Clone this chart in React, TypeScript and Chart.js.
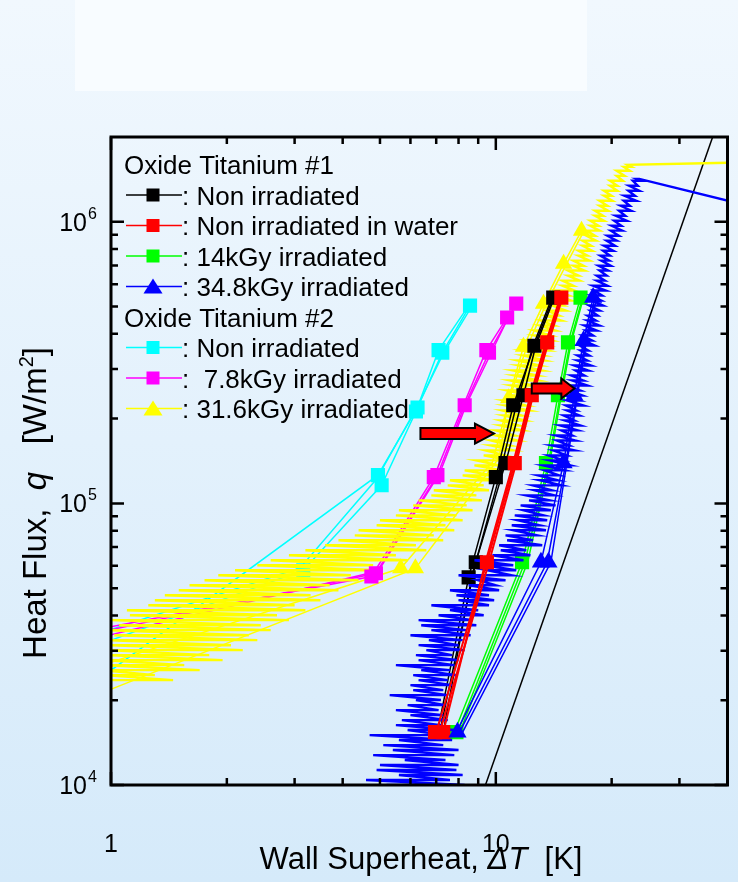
import React, { useEffect, useRef } from "react";
import { Chart, registerables } from "chart.js";

Chart.register(...registerables);

type P = [number, number];
type Row = [number, number, number]; // [q, T left, T right]

// ---------- axes ----------
const X_MIN = 1;
const X_MAX = 40;
const Y_MIN = 1e4;
const Y_MAX = 2e6;
const xMajorTicks = [1, 10];
const xMinorTicks = [2, 3, 4, 5, 6, 7, 8, 9, 20, 30];
const xTickLabels = ["1", "10"];
const yMajorTicks = [1e4, 1e5, 1e6];
const yMinorTicks = [2e4, 3e4, 4e4, 5e4, 6e4, 7e4, 8e4, 9e4, 2e5, 3e5, 4e5, 5e5, 6e5, 7e5, 8e5, 9e5];
const yTickExponents = ["4", "5", "6"];

// ---------- reference correlation line ----------
const referenceLine: P[] = [[9.4, 1e4], [36.6, 2e6]];

// ---------- Oxide Titanium #1 : Non irradiated (black) ----------
const blackRunA: P[] = [[7.05, 1.54e4], [8.5, 5.46e4], [10.0, 1.24e5], [11.1, 2.23e5], [12.6, 3.63e5], [14.1, 5.38e5]];
const blackRunB: P[] = [[7.15, 1.54e4], [8.87, 6.18e4], [10.6, 1.39e5], [11.8, 2.42e5], [12.7, 3.63e5], [14.2, 5.38e5]];
const blackRunC: P[] = [[7.3, 1.54e4], [8.65, 5.46e4], [10.2, 1.24e5], [11.3, 2.23e5], [12.5, 3.63e5], [14.0, 5.38e5]];
const blackMarks: P[] = [[7.05, 1.54e4], [8.5, 5.46e4], [8.87, 6.18e4], [10.0, 1.24e5], [10.6, 1.39e5], [11.1, 2.23e5], [11.8, 2.42e5], [12.6, 3.63e5], [14.1, 5.38e5]];

// ---------- Non irradiated in water (red) ----------
const redRunA: P[] = [[7.0, 1.54e4], [9.48, 6.18e4], [11.2, 1.39e5], [12.4, 2.42e5], [13.6, 3.73e5], [14.8, 5.38e5]];
const redRunB: P[] = [[7.15, 1.54e4], [9.6, 6.18e4], [11.3, 1.39e5], [12.5, 2.42e5], [13.7, 3.73e5], [14.9, 5.38e5]];
const redRunC: P[] = [[7.3, 1.54e4], [9.4, 6.18e4], [11.1, 1.39e5], [12.3, 2.42e5], [13.5, 3.73e5], [14.7, 5.38e5]];
const redMarks: P[] = [[6.95, 1.54e4], [7.3, 1.54e4], [9.48, 6.18e4], [11.2, 1.39e5], [12.4, 2.42e5], [13.6, 3.73e5], [14.8, 5.38e5]];

// ---------- 14kGy irradiated (green) ----------
const greenRunA: P[] = [[7.8, 1.54e4], [11.7, 6.18e4], [13.5, 1.39e5], [14.5, 2.42e5], [15.4, 3.73e5], [16.6, 5.38e5]];
const greenRunB: P[] = [[7.95, 1.54e4], [11.9, 6.18e4], [13.7, 1.39e5], [14.7, 2.42e5], [15.6, 3.73e5], [16.8, 5.38e5]];
const greenRunC: P[] = [[8.05, 1.54e4], [12.1, 6.18e4], [13.8, 1.39e5], [14.8, 2.42e5], [15.7, 3.73e5], [16.9, 5.38e5]];
const greenMarks: P[] = [[7.9, 1.54e4], [11.7, 6.18e4], [13.5, 1.39e5], [14.5, 2.42e5], [15.4, 3.73e5], [16.6, 5.38e5]];

// ---------- 34.8kGy irradiated (blue) ----------
const blueRunA: P[] = [[7.9, 1.54e4], [13.1, 6.18e4], [15.0, 1.39e5], [16.0, 2.42e5], [16.9, 3.78e5], [17.9, 5.38e5]];
const blueRunB: P[] = [[8.05, 1.54e4], [13.6, 6.18e4], [15.2, 1.39e5], [16.2, 2.42e5], [17.1, 3.78e5], [18.1, 5.38e5]];
const blueRunC: P[] = [[8.2, 1.54e4], [13.9, 6.18e4], [15.3, 1.39e5], [16.3, 2.42e5], [17.2, 3.78e5], [18.3, 5.38e5]];
const blueMarks: P[] = [[7.95, 1.54e4], [13.1, 6.18e4], [13.7, 6.18e4], [15.0, 1.39e5], [16.0, 2.42e5], [16.9, 3.78e5], [17.9, 5.38e5]];
// continuous (noisy) record: each row = heat flux, low-T excursion, high-T excursion
const blueNoiseRows: Row[] = [
  [9.6e3, 5.0, 7.9], [1.0e4, 5.2, 8.3], [1.042e4, 4.6, 7.6], [1.085e4, 5.6, 8.2], [1.131e4, 4.9, 7.9],
  [1.177e4, 5.0, 8.0], [1.227e4, 5.8, 7.4], [1.277e4, 4.8, 7.8], [1.331e4, 5.4, 8.0], [1.386e4, 5.1, 7.3],
  [1.444e4, 5.6, 7.7], [1.504e4, 4.7, 7.4], [1.567e4, 5.9, 7.8], [1.632e4, 5.5, 7.2], [1.70e4, 5.7, 7.5],
  [1.771e4, 6.0, 7.3], [1.845e4, 5.5, 7.1], [1.922e4, 5.9, 7.4], [2.003e4, 6.2, 7.2], [2.085e4, 5.3, 7.5],
  [2.173e4, 6.1, 7.3], [2.263e4, 6.0, 7.7], [2.358e4, 6.3, 7.5], [2.455e4, 6.1, 7.9], [2.558e4, 6.4, 7.6],
  [2.664e4, 5.5, 7.8], [2.776e4, 6.3, 8.0], [2.891e4, 6.2, 7.7], [3.012e4, 6.6, 8.3], [3.137e4, 6.3, 8.0],
  [3.269e4, 6.7, 8.2], [3.404e4, 6.0, 8.6], [3.547e4, 6.8, 8.4], [3.694e4, 6.4, 8.9], [3.849e4, 6.3, 8.7],
  [4.008e4, 7.1, 9.3], [4.176e4, 7.6, 9.0], [4.349e4, 6.8, 9.6], [4.532e4, 8.0, 9.9], [4.719e4, 7.9, 9.6],
  [4.917e4, 7.6, 10.2], [5.121e4, 8.5, 10.0], [5.336e4, 9.0, 10.6], [5.557e4, 8.0, 11.0], [5.79e4, 9.5, 11.3],
  [6.03e4, 9.3, 11.1], [6.283e4, 8.8, 11.8], [6.543e4, 9.8, 12.3], [6.818e4, 10.3, 12.0], [7.10e4, 10.2, 13.2],
  [7.40e4, 10.7, 12.5], [7.70e4, 10.6, 12.8], [8.03e4, 11.1, 13.5], [8.36e4, 11.0, 13.0], [8.71e4, 11.4, 13.6],
  [9.07e4, 11.2, 13.3], [9.45e4, 11.8, 13.9], [9.84e4, 11.6, 14.3], [1.025e5, 12.2, 13.8], [1.068e5, 12.0, 14.2],
  [1.113e5, 12.6, 14.0], [1.159e5, 12.5, 14.8], [1.208e5, 13.0, 14.5], [1.257e5, 12.9, 14.6], [1.31e5, 13.4, 15.1],
  [1.364e5, 13.3, 15.6], [1.421e5, 13.8, 15.0], [1.48e5, 13.7, 15.3], [1.542e5, 14.1, 16.0], [1.606e5, 14.0, 15.5],
  [1.673e5, 14.4, 16.1], [1.743e5, 14.3, 15.8], [1.816e5, 14.8, 16.3], [1.891e5, 14.7, 16.6], [1.97e5, 15.1, 16.0],
  [2.052e5, 15.0, 16.5], [2.138e5, 15.3, 16.2], [2.227e5, 15.2, 16.9], [2.32e5, 15.3, 16.5], [2.416e5, 15.1, 16.8],
  [2.517e5, 15.5, 16.6], [2.622e5, 15.4, 17.3], [2.732e5, 15.8, 16.9], [2.845e5, 15.7, 17.0], [2.964e5, 16.1, 17.4],
  [3.087e5, 16.0, 17.7], [3.216e5, 16.3, 17.3], [3.35e5, 16.3, 17.5], [3.49e5, 16.6, 17.4], [3.635e5, 16.5, 18.1],
  [3.787e5, 16.9, 17.8], [3.944e5, 16.8, 17.9], [4.109e5, 17.1, 18.3], [4.28e5, 17.0, 18.6], [4.459e5, 17.3, 18.2],
  [4.644e5, 17.3, 18.4], [4.838e5, 17.6, 18.6], [5.04e5, 17.5, 19.0], [5.25e5, 17.8, 18.8], [5.47e5, 17.7, 18.9],
  [5.70e5, 18.0, 19.3], [5.93e5, 17.9, 19.5], [6.18e5, 18.3, 19.2], [6.44e5, 18.3, 19.4], [6.71e5, 18.6, 19.6],
  [6.98e5, 18.5, 19.9], [7.28e5, 18.8, 19.7], [7.58e5, 18.7, 19.8], [7.89e5, 19.0, 20.2], [8.22e5, 19.1, 20.4],
  [8.57e5, 19.4, 20.6], [8.92e5, 19.5, 20.9], [9.30e5, 19.9, 21.3], [9.68e5, 20.0, 21.2], [1.009e6, 20.3, 21.9],
  [1.05e6, 20.5, 21.7], [1.094e6, 20.9, 22.5], [1.14e6, 21.1, 22.3], [1.187e6, 21.5, 23.2], [1.237e6, 21.6, 23.0],
  [1.289e6, 22.1, 23.6], [1.342e6, 22.2, 23.4], [1.398e6, 22.7, 24.0], [1.42e6, 23.3, 23.6],
];
const blueTail: P[] = [[60, 1.036e6]];

// ---------- Oxide Titanium #2 : Non irradiated (cyan) ----------
const cyanRunA: P[] = [[0.9, 2.3e4], [4.94, 1.26e5], [6.26, 2.19e5], [7.26, 3.43e5], [8.57, 5.04e5]];
const cyanRunB: P[] = [[0.9, 3.1e4], [3.16, 5.79e4], [5.05, 1.16e5], [6.2, 2.12e5], [7.1, 3.5e5], [8.5, 5.04e5]];
const cyanRunC: P[] = [[0.9, 3.4e4], [3.1, 5.9e4], [4.9, 1.22e5], [6.3, 2.25e5], [7.3, 3.4e5], [8.65, 5.0e5]];
const cyanMarks: P[] = [[3.16, 5.79e4], [4.94, 1.26e5], [5.05, 1.16e5], [6.26, 2.19e5], [6.2, 2.12e5], [7.26, 3.43e5], [7.1, 3.5e5], [8.57, 5.04e5]];

// ---------- 7.8kGy irradiated (magenta) ----------
const magentaRunA: P[] = [[0.9, 3.45e4], [4.88, 5.65e4], [7.05, 1.26e5], [8.3, 2.23e5], [9.6, 3.43e5], [11.3, 5.12e5]];
const magentaRunB: P[] = [[0.9, 3.55e4], [4.75, 5.5e4], [6.9, 1.24e5], [8.2, 2.2e5], [9.45, 3.5e5], [10.7, 4.57e5]];
const magentaRunC: P[] = [[0.9, 3.3e4], [4.95, 5.75e4], [7.15, 1.28e5], [8.4, 2.26e5], [9.7, 3.4e5], [10.8, 4.6e5]];
const magentaMarks: P[] = [[4.75, 5.5e4], [4.88, 5.65e4], [6.9, 1.24e5], [7.05, 1.26e5], [8.3, 2.23e5], [9.45, 3.5e5], [9.6, 3.43e5], [10.7, 4.57e5], [11.3, 5.12e5]];

// ---------- 31.6kGy irradiated (yellow) ----------
const yellowRunA: P[] = [[0.92, 2.09e4], [6.18, 5.88e4], [10.2, 1.45e5], [10.8, 2.36e5], [11.8, 3.6e5], [13.3, 5.12e5], [15.0, 7.1e5], [16.7, 9.29e5]];
const yellowRunB: P[] = [[0.92, 2.63e4], [5.66, 5.88e4], [9.8, 1.4e5], [10.9, 2.4e5], [12.0, 3.55e5], [13.5, 5.1e5], [15.2, 7.0e5], [16.9, 9.2e5]];
const yellowMarks: P[] = [[5.66, 5.88e4], [6.18, 5.88e4], [10.8, 2.36e5], [11.8, 3.6e5], [13.3, 5.12e5], [15.0, 7.1e5], [16.7, 9.29e5]];
const yellowNoiseRows: Row[] = [
  [2.358e4, 0.95, 1.45], [2.455e4, 0.96, 1.3], [2.558e4, 0.95, 1.7], [2.664e4, 0.97, 1.55], [2.776e4, 0.96, 1.95],
  [2.891e4, 0.98, 1.8], [3.012e4, 0.97, 2.2], [3.137e4, 1.0, 2.05], [3.269e4, 0.97, 2.4], [3.404e4, 1.02, 2.28],
  [3.547e4, 0.98, 2.6], [3.694e4, 1.05, 2.45], [3.849e4, 1.0, 2.9], [4.008e4, 1.12, 2.7], [4.176e4, 1.1, 3.2],
  [4.349e4, 1.25, 3.0], [4.532e4, 1.3, 3.5], [4.719e4, 1.38, 3.3], [4.917e4, 1.5, 3.9], [5.121e4, 1.6, 3.7],
  [5.336e4, 1.75, 4.4], [5.557e4, 1.9, 4.2], [5.79e4, 2.1, 5.0], [6.03e4, 2.4, 4.8], [6.283e4, 2.6, 5.9],
  [6.543e4, 2.9, 5.5], [6.818e4, 3.2, 6.6], [7.10e4, 3.6, 6.2], [7.40e4, 3.9, 7.3], [7.70e4, 4.3, 6.9],
  [8.03e4, 4.4, 7.8], [8.36e4, 4.9, 7.4], [8.71e4, 5.0, 8.2], [9.07e4, 5.5, 7.9], [9.45e4, 5.6, 8.7],
  [9.84e4, 6.1, 8.4], [1.025e5, 6.3, 9.2], [1.068e5, 6.8, 8.9], [1.113e5, 6.9, 9.6], [1.159e5, 7.5, 9.3],
  [1.208e5, 7.6, 10.0], [1.257e5, 8.2, 9.8], [1.31e5, 8.3, 10.4], [1.364e5, 8.8, 10.2], [1.421e5, 8.9, 10.8],
  [1.48e5, 9.3, 10.6], [1.542e5, 9.4, 11.1], [1.606e5, 9.7, 10.9], [1.673e5, 9.7, 11.4], [1.743e5, 10.0, 11.2],
  [1.816e5, 10.0, 11.7], [1.891e5, 10.3, 11.5], [1.97e5, 10.3, 11.9], [2.052e5, 10.5, 11.7], [2.138e5, 10.4, 12.2],
  [2.227e5, 10.6, 12.0], [2.32e5, 10.5, 12.5], [2.416e5, 10.8, 12.2], [2.517e5, 10.7, 12.7], [2.622e5, 11.0, 12.5],
  [2.732e5, 10.9, 12.9], [2.845e5, 11.2, 12.8], [2.964e5, 11.1, 13.2], [3.087e5, 11.5, 13.0], [3.216e5, 11.4, 13.4],
  [3.35e5, 11.8, 13.3], [3.49e5, 11.7, 13.7], [3.635e5, 12.2, 13.6], [3.787e5, 12.1, 14.0], [3.944e5, 12.6, 13.9],
  [4.109e5, 12.6, 14.3], [4.28e5, 13.0, 14.2], [4.459e5, 13.1, 14.8], [4.644e5, 13.5, 14.6], [4.838e5, 13.6, 15.2],
  [5.04e5, 14.0, 15.0], [5.25e5, 14.0, 15.7], [5.47e5, 14.4, 15.5], [5.70e5, 14.4, 16.0], [5.93e5, 14.9, 15.9],
  [6.18e5, 14.9, 16.5], [6.44e5, 15.4, 16.4], [6.71e5, 15.4, 17.0], [6.98e5, 15.9, 16.9], [7.28e5, 15.9, 17.5],
  [7.58e5, 16.4, 17.3], [7.89e5, 16.4, 17.8], [8.22e5, 16.8, 17.7], [8.57e5, 16.8, 18.2], [8.92e5, 17.2, 18.1],
  [9.30e5, 17.2, 18.6], [9.68e5, 17.6, 18.5], [1.009e6, 17.6, 19.1], [1.05e6, 18.1, 19.0], [1.094e6, 18.1, 19.6],
  [1.14e6, 18.6, 19.5], [1.187e6, 18.6, 20.1], [1.237e6, 19.1, 20.0], [1.289e6, 19.1, 20.7], [1.342e6, 19.8, 20.7],
  [1.398e6, 19.8, 21.4], [1.456e6, 20.6, 21.6], [1.517e6, 20.6, 22.3], [1.567e6, 21.5, 22.5], [1.593e6, 22.0, 22.0],
];
const yellowTail: P[] = [[60, 1.64e6]];

// ---------- annotation arrows (data coords) ----------
const arrowTailT = [6.37, 12.4];
const arrowTipT = [9.89, 16.0];
const arrowQ = [1.77e5, 2.56e5];

// ---------- legend ----------
const legendRows = [
  { head: "Oxide Titanium #1" },
  { color: "#000000", style: "rect", label: ": Non irradiated" },
  { color: "#ff0000", style: "rect", label: ": Non irradiated in water" },
  { color: "#00ff00", style: "rect", label: ": 14kGy irradiated" },
  { color: "#0000ff", style: "triangle", label: ": 34.8kGy irradiated" },
  { head: "Oxide Titanium #2" },
  { color: "#00ffff", style: "rect", label: ": Non irradiated" },
  { color: "#ff00ff", style: "rect", label: ":  7.8kGy irradiated" },
  { color: "#ffff00", style: "triangle", label: ": 31.6kGy irradiated" },
];

const FONT = '"Liberation Sans", Arial, Helvetica, sans-serif';

const toXY = (pts: P[]) => pts.map(([x, y]) => ({ x, y }));
const rowsToXY = (rows: Row[]) => rows.flatMap(([q, lo, hi]) => [{ x: lo, y: q }, { x: hi, y: q }]);
const lineDs = (data: { x: number; y: number }[], color: string, width: number) => ({
  data,
  showLine: true,
  borderColor: color,
  backgroundColor: color,
  borderWidth: width,
  pointRadius: 0,
  pointHoverRadius: 0,
  tension: 0,
  fill: false,
  clip: 0,
});
const markDs = (pts: P[], color: string, style: string, r: number) => ({
  data: toXY(pts),
  showLine: false,
  pointStyle: style,
  pointRadius: r,
  pointHoverRadius: r,
  backgroundColor: color,
  borderColor: color,
  borderWidth: 0,
});

function drawSegments(ctx: CanvasRenderingContext2D, segs: { t: string; f: string; dy?: number }[], cx: number, cy: number) {
  let total = 0;
  for (const s of segs) {
    ctx.font = s.f;
    total += ctx.measureText(s.t).width;
  }
  let x = cx - total / 2;
  for (const s of segs) {
    ctx.font = s.f;
    ctx.fillText(s.t, x, cy + (s.dy || 0));
    x += ctx.measureText(s.t).width;
  }
}

const decorPlugin = {
  id: "decor",
  beforeDraw(chart: any) {
    const { ctx, width, height } = chart;
    ctx.save();
    const g = ctx.createLinearGradient(0, 0, 0, height);
    g.addColorStop(0, "#f1f8fe");
    g.addColorStop(1, "#d5eafa");
    ctx.fillStyle = g;
    ctx.fillRect(0, 0, width, height);
    ctx.fillStyle = "#f8fcff";
    ctx.fillRect(75, 0, 512, 91);
    ctx.restore();
  },
  beforeDatasetsDraw(chart: any) {
    const { ctx } = chart;
    ctx.save();
    ctx.textBaseline = "alphabetic";
    ctx.textAlign = "left";
    legendRows.forEach((row: any, i: number) => {
      const y = 164.5 + i * 30.5;
      ctx.fillStyle = "#000";
      ctx.font = `26px ${FONT}`;
      if (row.head) {
        ctx.fillText(row.head, 124, y + 9.5);
        return;
      }
      ctx.strokeStyle = row.color;
      ctx.lineWidth = 1.5;
      ctx.beginPath();
      ctx.moveTo(126, y);
      ctx.lineTo(182, y);
      ctx.stroke();
      ctx.fillStyle = row.color;
      if (row.style === "rect") {
        ctx.fillRect(146.5, y - 6.5, 13, 13);
      } else {
        ctx.beginPath();
        ctx.moveTo(153, y - 8);
        ctx.lineTo(162.5, y + 7);
        ctx.lineTo(143.5, y + 7);
        ctx.closePath();
        ctx.fill();
      }
      ctx.fillStyle = "#000";
      ctx.fillText(row.label, 182, y + 9.5);
    });
    ctx.restore();
  },
  afterDatasetsDraw(chart: any) {
    const { ctx, chartArea } = chart;
    const xs = chart.scales.x;
    const ys = chart.scales.y;
    const { left, right, top, bottom } = chartArea;
    ctx.save();
    // arrows
    for (let i = 0; i < arrowQ.length; i++) {
      const x0 = xs.getPixelForValue(arrowTailT[i]);
      const x1 = xs.getPixelForValue(arrowTipT[i]);
      const y = ys.getPixelForValue(arrowQ[i]);
      const bh = i === 0 ? 5.5 : 5;
      const hh = 10;
      const hl = i === 0 ? 19 : 13;
      ctx.beginPath();
      ctx.moveTo(x0, y - bh);
      ctx.lineTo(x1 - hl, y - bh);
      ctx.lineTo(x1 - hl, y - hh);
      ctx.lineTo(x1, y);
      ctx.lineTo(x1 - hl, y + hh);
      ctx.lineTo(x1 - hl, y + bh);
      ctx.lineTo(x0, y + bh);
      ctx.closePath();
      ctx.fillStyle = "#ff0000";
      ctx.fill();
      ctx.strokeStyle = "#000";
      ctx.lineWidth = 2;
      ctx.lineJoin = "miter";
      ctx.stroke();
    }
    // frame
    ctx.strokeStyle = "#000";
    ctx.lineWidth = 3;
    ctx.strokeRect(left, top, right - left, bottom - top);
    // ticks
    ctx.lineWidth = 2.5;
    ctx.beginPath();
    const xt = (v: number, len: number) => {
      const px = xs.getPixelForValue(v);
      ctx.moveTo(px, bottom);
      ctx.lineTo(px, bottom - len);
      ctx.moveTo(px, top);
      ctx.lineTo(px, top + len);
    };
    const yt = (v: number, len: number) => {
      const py = ys.getPixelForValue(v);
      ctx.moveTo(left, py);
      ctx.lineTo(left + len, py);
      ctx.moveTo(right, py);
      ctx.lineTo(right - len, py);
    };
    xMajorTicks.forEach((v) => xt(v, 13));
    xMinorTicks.forEach((v) => xt(v, 7));
    yMajorTicks.forEach((v) => yt(v, 13));
    yMinorTicks.forEach((v) => yt(v, 7));
    ctx.stroke();
    // tick labels
    ctx.fillStyle = "#000";
    ctx.textBaseline = "alphabetic";
    ctx.textAlign = "center";
    ctx.font = `25px ${FONT}`;
    xMajorTicks.forEach((v, i) => {
      ctx.fillText(xTickLabels[i], xs.getPixelForValue(v), 852);
    });
    yMajorTicks.forEach((v, i) => {
      const py = ys.getPixelForValue(v);
      ctx.textAlign = "right";
      ctx.font = `25px ${FONT}`;
      ctx.fillText("10", 87, py + 9);
      ctx.textAlign = "left";
      ctx.font = `16px ${FONT}`;
      ctx.fillText(yTickExponents[i], 88, py - 3);
    });
    // axis titles
    ctx.textAlign = "left";
    const n = `31px ${FONT}`;
    const it = `italic 31px ${FONT}`;
    drawSegments(ctx, [
      { t: "Wall Superheat, ", f: n },
      { t: "\u0394T", f: it },
      { t: "  [K]", f: n },
    ], 421, 869);
    const n2 = `33px ${FONT}`;
    const it2 = `italic 33px ${FONT}`;
    ctx.save();
    ctx.translate(46, 503);
    ctx.rotate(-Math.PI / 2);
    drawSegments(ctx, [
      { t: "Heat Flux,  ", f: n2 },
      { t: "q", f: it2 },
      { t: "   [W/m", f: n2 },
      { t: "2", f: `20px ${FONT}`, dy: -13 },
      { t: "]", f: n2 },
    ], 0, 0);
    ctx.restore();
    ctx.restore();
  },
};

export default function App() {
  const ref = useRef<HTMLCanvasElement | null>(null);
  useEffect(() => {
    if (!ref.current) return;
    const layers: any[] = [
      lineDs(toXY(referenceLine), "#000000", 1.5),
      lineDs(toXY(cyanRunA), "#00ffff", 1.5),
      lineDs(toXY(cyanRunB), "#00ffff", 1.5),
      lineDs(toXY(cyanRunC), "#00ffff", 1.5),
      markDs(cyanMarks, "#00ffff", "rect", 10),
      lineDs(toXY(magentaRunA), "#ff00ff", 1.5),
      lineDs(toXY(magentaRunB), "#ff00ff", 1.5),
      lineDs(toXY(magentaRunC), "#ff00ff", 1.5),
      lineDs(toXY(yellowRunA), "#ffff00", 1.5),
      lineDs(toXY(yellowRunB), "#ffff00", 1.5),
      lineDs([...rowsToXY(yellowNoiseRows), ...toXY(yellowTail)], "#ffff00", 2.4),
      markDs(yellowMarks, "#ffff00", "triangle", 10),
      markDs(magentaMarks, "#ff00ff", "rect", 10),
      lineDs(toXY(blackRunA), "#000000", 1.5),
      lineDs(toXY(blackRunB), "#000000", 1.5),
      lineDs(toXY(blackRunC), "#000000", 1.5),
      markDs(blackMarks, "#000000", "rect", 10),
      lineDs(toXY(greenRunA), "#00ff00", 1.5),
      lineDs(toXY(greenRunB), "#00ff00", 1.5),
      lineDs(toXY(greenRunC), "#00ff00", 1.5),
      markDs(greenMarks, "#00ff00", "rect", 10),
      lineDs(toXY(blueRunA), "#0000ff", 1.5),
      lineDs(toXY(blueRunB), "#0000ff", 1.5),
      lineDs(toXY(blueRunC), "#0000ff", 1.5),
      lineDs([...rowsToXY(blueNoiseRows), ...toXY(blueTail)], "#0000ff", 2.4),
      lineDs(toXY(redRunA), "#ff0000", 2),
      lineDs(toXY(redRunB), "#ff0000", 2),
      lineDs(toXY(redRunC), "#ff0000", 2),
      markDs(redMarks, "#ff0000", "rect", 10),
      markDs(blueMarks, "#0000ff", "triangle", 10.5),
    ];
    const datasets = layers.map((d, i) => ({ ...d, order: layers.length - i }));
    const chart = new Chart(ref.current, {
      type: "scatter",
      data: { datasets },
      options: {
        responsive: false,
        animation: false,
        devicePixelRatio: 1,
        events: [],
        layout: { padding: { left: 111, right: 5, top: 137, bottom: 97 } },
        scales: {
          x: { type: "logarithmic", min: X_MIN, max: X_MAX, display: false },
          y: { type: "logarithmic", min: Y_MIN, max: Y_MAX, display: false },
        },
        plugins: { legend: { display: false }, tooltip: { enabled: false } },
      },
      plugins: [decorPlugin],
    } as any);
    return () => chart.destroy();
  }, []);
  return (
    <div style={{ position: "absolute", left: 0, top: 0, width: 738, height: 882 }}>
      <canvas ref={ref} width={738} height={882} style={{ display: "block", width: 738, height: 882 }} />
    </div>
  );
}
